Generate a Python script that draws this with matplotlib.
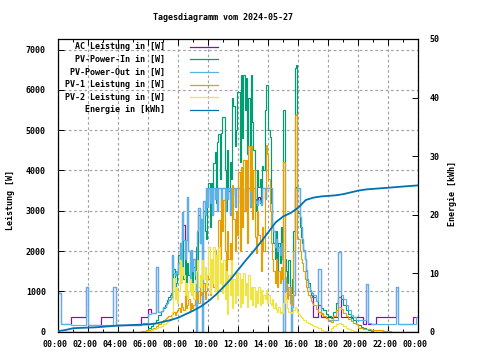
import numpy as np
import matplotlib
matplotlib.use("Agg")
import matplotlib.pyplot as plt
from matplotlib.lines import Line2D
import matplotlib.transforms as mtransforms

# ---------------- data ----------------
# bins: 00-07h every 10 min (42), 07-17h every 5 min (120), 17-24h every 10 min (42)
ac_power = [
    960, 180, 190, 190, 190, 370,      # 00
    370, 370, 370, 370, 370, 1100,     # 01
    165, 165, 165, 165, 165, 370,      # 02
    370, 370, 370, 370, 1100, 165,     # 03
    165, 165, 165, 165, 165, 165,      # 04
    165, 165, 165, 370, 370, 370,      # 05
    560, 460, 470, 1600, 490, 520,     # 06
    610, 620, 680, 700, 790, 800, 850, 1900, 1450, 1400, 1500, 1450,       # 07
    1700, 2200, 1500, 2970, 2650, 1800, 2270, 3340, 2000, 1200, 2020, 1500,  # 08
    1800, 1400, 0, 2500, 3070, 2200, 2800, 0, 3240, 2900, 3560, 3100,      # 09
    3560, 3270, 3560, 2900, 3560, 3300, 3560, 3000, 3560, 3560, 3100, 3560,  # 10
    3560, 3000, 3560, 3300, 3560, 2900, 3100, 3400, 3560, 3100, 3560, 3560,  # 11
    3560, 3200, 3560, 3560, 3000, 3560, 3300, 3560, 3560, 3100, 3560, 3560,  # 12
    3560, 3190, 3250, 3140, 3330, 3190, 3140, 3560, 3560, 3300, 3560, 3560,  # 13
    3560, 3560, 3560, 2600, 2500, 2100, 2300, 2000, 2100, 1900, 2200, 1800,  # 14
    0, 1360, 1200, 1000, 900, 1100, 0, 610, 900, 3560, 3600, 3560,         # 15
    3560, 2850, 2600, 2300, 2030, 1800, 1530, 1300, 1100, 1030, 990, 950,  # 16
    372, 372, 1550, 372, 372, 372,     # 17
    372, 372, 372, 372, 1980, 372,     # 18
    372, 372, 372, 372, 372, 372,      # 19
    372, 372, 190, 1180, 190, 190,     # 20
    190, 372, 372, 372, 372, 372,      # 21
    372, 372, 372, 1100, 190, 190,     # 22
    190, 190, 190, 190, 372, 372,      # 23
]

pv_power_in = [
    0, 0, 0, 0, 0, 0,                  # 00
    0, 0, 0, 0, 0, 0,                  # 01
    0, 0, 0, 0, 0, 0,                  # 02
    0, 0, 0, 0, 0, 0,                  # 03
    0, 0, 0, 0, 0, 0,                  # 04
    0, 0, 0, 0, 0, 0,                  # 05
    100, 150, 220, 300, 420, 520,      # 06
    600, 650, 700, 780, 850, 900, 950, 1000, 1550, 1100, 1200, 1450,         # 07
    1900, 1200, 1500, 2500, 1300, 2000, 1100, 1700, 1400, 1500, 1800, 1200,  # 08
    1600, 1300, 2100, 1700, 2900, 2200, 2400, 1800, 3000, 2500, 2300, 3400,  # 09
    3700, 2600, 3690, 3000, 4180, 4460, 3200, 4700, 4900, 3800, 4930, 5320,  # 10
    5320, 4000, 3000, 4500, 3500, 4200, 3800, 5800, 5600, 4600, 5000, 5950,  # 11
    5950, 4200, 6370, 4800, 6370, 5500, 6300, 4400, 5800, 4000, 6370, 5200,  # 12
    4500, 3300, 3000, 4000, 3600, 3800, 3200, 4100, 4000, 5500, 6120, 6120,  # 13
    5000, 4830, 3200, 2600, 2200, 1800, 2500, 1500, 2200, 1700, 2600, 2000,  # 14
    5500, 1800, 1500, 1200, 1780, 1000, 960, 1300, 2500, 6540, 6620, 3000,   # 15
    2940, 2600, 2350, 2200, 2030, 1800, 1500, 1280, 1200, 1000, 900, 860,    # 16
    850, 750, 650, 600, 550, 450,      # 17
    380, 350, 500, 700, 850, 800,      # 18
    650, 550, 450, 350, 280, 200,      # 19
    160, 120, 90, 60, 30, 10,          # 20
    0, 0, 0, 0, 0, 0,                  # 21
    0, 0, 0, 0, 0, 0,                  # 22
    0, 0, 0, 0, 0, 0,                  # 23
]

pv_power_out = [
    960, 180, 180, 180, 180, 165,      # 00
    165, 165, 165, 165, 165, 1100,     # 01
    165, 165, 165, 165, 165, 165,      # 02
    165, 165, 165, 165, 1100, 165,     # 03
    165, 165, 165, 165, 165, 165,      # 04
    165, 165, 165, 180, 210, 210,      # 05
    450, 460, 470, 1600, 490, 520,     # 06
    610, 620, 680, 700, 790, 800, 850, 1900, 1450, 1400, 1500, 1450,       # 07
    1700, 2200, 1500, 2970, 2270, 1800, 2270, 3340, 2000, 1200, 2020, 1500,  # 08
    1800, 1400, 0, 2500, 3070, 2200, 2800, 0, 3240, 2900, 3560, 3100,      # 09
    3560, 3200, 3560, 2900, 3560, 3300, 3560, 3000, 3560, 3560, 3100, 3560,  # 10
    3560, 3000, 3560, 3300, 3560, 2900, 3560, 3400, 3560, 3100, 3560, 3560,  # 11
    3560, 3200, 3560, 3560, 3000, 3560, 3300, 3560, 3560, 3100, 3560, 3560,  # 12
    3560, 3190, 3250, 3140, 3270, 3190, 3140, 3560, 3560, 3300, 3560, 3560,  # 13
    3560, 3560, 3560, 2600, 2500, 2100, 2300, 2000, 2100, 1900, 2200, 1800,  # 14
    0, 1360, 1200, 1000, 900, 1100, 0, 610, 900, 3560, 3560, 3560,         # 15
    3560, 2850, 2600, 2300, 2030, 1800, 1530, 1300, 1100, 1030, 990, 950,  # 16
    900, 750, 1550, 460, 380, 340,     # 17
    300, 290, 290, 290, 1980, 900,     # 18
    800, 650, 540, 420, 370, 300,      # 19
    290, 290, 290, 1180, 210, 200,     # 20
    190, 190, 190, 190, 190, 190,      # 21
    190, 190, 190, 1100, 190, 190,     # 22
    190, 190, 190, 190, 190, 360,      # 23
]

pv1_power = [
    0, 0, 0, 0, 0, 0,                  # 00
    0, 0, 0, 0, 0, 0,                  # 01
    0, 0, 0, 0, 0, 0,                  # 02
    0, 0, 0, 0, 0, 0,                  # 03
    0, 0, 0, 0, 0, 0,                  # 04
    0, 0, 0, 10, 20, 30,               # 05
    40, 60, 100, 150, 200, 250,        # 06
    300, 320, 350, 360, 380, 400, 420, 450, 500, 420, 480, 550,            # 07
    600, 480, 700, 610, 550, 900, 600, 650, 800, 550, 700, 600,            # 08
    650, 900, 800, 1000, 700, 1200, 900, 1100, 1200, 800, 1000, 1400,      # 09
    1300, 900, 1500, 1800, 1100, 2030, 1600, 1200, 2770, 1800, 3260, 2500,   # 10
    3260, 2000, 1500, 2500, 1800, 2200, 1600, 3640, 2800, 2000, 3000, 2400,  # 11
    3960, 2000, 4090, 2600, 4260, 3000, 4260, 2200, 4600, 3500, 4600, 2800,  # 12
    4000, 2350, 1950, 3000, 2400, 2200, 1500, 2600, 2000, 3500, 4630, 4400,  # 13
    3800, 3000, 2200, 1800, 1500, 1200, 1800, 1100, 1500, 1200, 1600, 1300,  # 14
    4200, 1300, 1000, 800, 1100, 700, 650, 900, 2000, 5370, 5400, 2300,    # 15
    2300, 2000, 1800, 1700, 1500, 1300, 1100, 1000, 900, 850, 750, 700,    # 16
    650, 560, 480, 430, 390, 330,      # 17
    260, 250, 380, 550, 610, 560,      # 18
    470, 400, 320, 260, 220, 180,      # 19
    100, 80, 70, 60, 55, 50,           # 20
    45, 40, 35, 30, 25, 20,            # 21
    10, 0, 0, 0, 0, 0,                 # 22
    0, 0, 0, 0, 0, 0,                  # 23
]

pv2_power = [
    0, 0, 0, 0, 0, 0,                  # 00
    0, 0, 0, 0, 0, 0,                  # 01
    0, 0, 0, 0, 0, 0,                  # 02
    0, 0, 0, 0, 0, 0,                  # 03
    0, 0, 0, 0, 0, 0,                  # 04
    0, 0, 0, 0, 0, 0,                  # 05
    20, 40, 60, 90, 110, 130,          # 06
    180, 200, 220, 240, 260, 300, 350, 500, 1330, 800, 1100, 700,          # 07
    1000, 1780, 1200, 1600, 1400, 900, 1200, 800, 1000, 1300, 900, 1200,   # 08
    800, 1200, 1500, 1780, 1100, 1400, 1000, 1780, 1300, 1600, 1100, 1400,  # 09
    2100, 950, 1800, 1200, 2100, 1000, 1900, 800, 2100, 1200, 1700, 950,   # 10
    1780, 800, 1500, 450, 1400, 900, 1780, 600, 1300, 700, 1500, 900,      # 11
    1450, 610, 1300, 700, 1450, 900, 1200, 610, 1400, 800, 1100, 650,      # 12
    1100, 620, 1000, 700, 1100, 650, 1030, 700, 900, 800, 1030, 700,       # 13
    900, 700, 660, 800, 600, 700, 560, 500, 620, 460, 500, 460,            # 14
    700, 950, 800, 600, 500, 490, 470, 500, 540, 610, 600, 500,            # 15
    450, 400, 370, 350, 300, 280, 250, 240, 220, 200, 180, 170,            # 16
    150, 110, 80, 50, 20, 10,          # 17
    0, 80, 150, 200, 210, 180,         # 18
    150, 100, 60, 30, 10, 0,           # 19
    0, 0, 0, 0, 0, 0,                  # 20
    0, 0, 0, 0, 0, 0,                  # 21
    0, 0, 0, 0, 0, 0,                  # 22
    0, 0, 0, 0, 0, 0,                  # 23
]

# energy (kWh), every half hour from 00:00 to 24:00
energy_kwh = [
    0.1, 0.3, 0.6, 0.65, 0.7, 0.75, 0.85, 0.95, 1.05, 1.1, 1.15, 1.2,
    1.25, 1.4, 1.7, 2.0, 2.4, 3.0, 3.6, 4.3, 5.2, 6.3, 7.6, 9.0,
    10.6, 12.2, 13.7, 15.3, 17.0, 18.7, 19.7, 20.3, 21.2, 22.5, 22.9, 23.1,
    23.2, 23.3, 23.5, 23.8, 24.1, 24.3, 24.4, 24.5, 24.6, 24.7, 24.8, 24.9,
    25.0,
]

series_labels = ["AC Leistung in [W]", "PV-Power-In in [W]", "PV-Power-Out in [W]",
                 "PV-1 Leistung in [W]", "PV-2 Leistung in [W]", "Energie in [kWh]"]
series_colors = ["#9400d3", "#009e73", "#56b4e9", "#e69f00", "#f0e442", "#0072b2"]
x_tick_labels = ["00:00", "02:00", "04:00", "06:00", "08:00", "10:00", "12:00",
                 "14:00", "16:00", "18:00", "20:00", "22:00", "00:00"]
title = "Tagesdiagramm vom 2024-05-27"

# ---------------- figure ----------------
W, H = 480, 360
FONT = "DejaVu Sans Mono"
FS = 6
plt.rcParams["font.family"] = [FONT]

fig = plt.figure(figsize=(4.8, 3.6), dpi=100)
ax_l, ax_r, ax_t, ax_b = 58.3, 418.3, 39.0, 331.7
ax = fig.add_axes([ax_l / W, 1 - ax_b / H, (ax_r - ax_l) / W, (ax_b - ax_t) / H])

edges = np.concatenate([np.arange(42) / 6.0, 7 + np.arange(120) / 12.0, 17 + np.arange(43) / 6.0])
power_series = [ac_power, pv_power_in, pv_power_out, pv1_power, pv2_power]
for vals, col in zip(power_series, series_colors[:5]):
    ax.stairs(vals, edges, baseline=None, color=col, linewidth=0.85)

ax.set_xlim(0, 24)
ax.set_ylim(0, 7261)
ax.set_xticks(np.arange(0, 25, 2))
ax.set_xticklabels(x_tick_labels)
ax.set_xticks(np.arange(0, 25, 1), minor=True)
ax.set_yticks(np.arange(0, 7001, 1000))
ax.set_yticklabels([str(v) for v in range(0, 7001, 1000)])
ax.grid(True, which="major", color="#a0a0a0", linestyle=(0, (2.2, 2.2)), linewidth=0.85)
ax.set_axisbelow(True)
ax.tick_params(axis="both", which="both", direction="in", top=True, right=True,
               labelsize=FS, width=0.7, colors="black")
ax.tick_params(which="major", length=4)
ax.tick_params(which="minor", length=2)
ax.tick_params(axis="y", pad=9)
ax.tick_params(axis="x", pad=6)
for sp in ax.spines.values():
    sp.set_linewidth(0.9)
    sp.set_color("black")

shift = mtransforms.ScaledTranslation(-3 / 100, 0, fig.dpi_scale_trans)
for lab in ax.get_xticklabels():
    lab.set_transform(lab.get_transform() + shift)

ax2 = ax.twinx()
energy_t = np.arange(len(energy_kwh)) * 0.5
ax2.plot(energy_t, energy_kwh, color=series_colors[5], linewidth=1.3)
ax2.set_ylim(0, 50)
ax2.set_yticks(np.arange(0, 51, 10))
ax2.tick_params(axis="y", direction="in", length=4, width=0.7, labelsize=FS, pad=8)
for sp in ax2.spines.values():
    sp.set_visible(False)

for lab in ax.get_xticklabels() + ax.get_yticklabels() + ax2.get_yticklabels():
    lab.set_fontweight("bold")

# texts
fig.text(223 / W, 1 - 17.7 / H, title, ha="center", va="center", fontsize=FS, fontweight="bold")
fig.text(10.3 / W, 1 - 200 / H, "Leistung [W]", rotation=90, ha="center", va="center",
         fontsize=FS, fontweight="bold")
fig.text(452.3 / W, 1 - 194 / H, "Energie [kWh]", rotation=90, ha="center", va="center",
         fontsize=FS, fontweight="bold")

# legend (gnuplot style: right-justified text, sample line to the right)
row0, row_step = 46.7, 12.66
for i, (lab, col) in enumerate(zip(series_labels, series_colors)):
    y = 1 - (row0 + i * row_step) / H
    fig.text(165 / W, y, lab, ha="right", va="center", fontsize=FS, fontweight="bold")
    fig.add_artist(Line2D([190 / W, 218.3 / W], [y, y], transform=fig.transFigure,
                          color=col, linewidth=0.9))

fig.savefig("out.png", dpi=100)
